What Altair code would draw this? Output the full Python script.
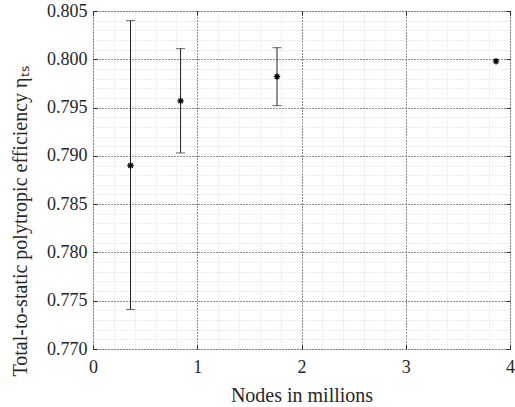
import altair as alt
import pandas as pd

nodes = [0.36, 0.84, 1.765, 3.866]
eta = [0.789, 0.7957, 0.7982, 0.7998]
low = [0.7741, 0.7903, 0.7952, None]
high = [0.8040, 0.8011, 0.8012, None]

x_major = [0, 1, 2, 3, 4]
x_minor = [i / 5 for i in range(0, 21)]
y_major = [0.770, 0.775, 0.780, 0.785, 0.790, 0.795, 0.800, 0.805]
y_minor = [round(0.770 + i * 0.001, 3) for i in range(0, 36)]

df = pd.DataFrame({"nodes": nodes, "eta": eta, "low": low, "high": high})
eb = df.dropna()

FONT = "Liberation Serif"
xs = alt.Scale(domain=[0, 4], nice=False, zero=False)
ys = alt.Scale(domain=[0.770, 0.805], nice=False, zero=False)

base = alt.Chart(df)

minor = base.mark_point(opacity=0).encode(
    x=alt.X("nodes:Q", scale=xs, axis=alt.Axis(orient="bottom", values=x_minor, grid=True, gridColor="#d8d8d8",
                                               gridDash=[1, 2], gridWidth=1, labels=False, ticks=False,
                                               domain=False, title=None)),
    y=alt.Y("eta:Q", scale=ys, axis=alt.Axis(orient="left", values=y_minor, grid=True, gridColor="#d8d8d8",
                                             gridDash=[1, 2], gridWidth=1, labels=False, ticks=False,
                                             domain=False, title=None)),
)

major = base.mark_point(opacity=0).encode(
    x=alt.X("nodes:Q", scale=xs, axis=alt.Axis(orient="bottom", values=x_major, grid=True, gridColor="#303030",
                                               gridDash=[1, 2], gridWidth=1,
                                               labels=True, ticks=False, domain=False, labelFlush=False,
                                               labelFont=FONT, labelFontSize=18, labelColor="#262626",
                                               labelPadding=9, format="d",
                                               title="Nodes in millions", titleFont=FONT,
                                               titleFontSize=20, titleFontWeight="normal",
                                               titleColor="#262626", titlePadding=9)),
    y=alt.Y("eta:Q", scale=ys, axis=alt.Axis(orient="left", values=y_major, grid=True, gridColor="#303030",
                                             gridDash=[1, 2], gridWidth=1,
                                             labels=True, ticks=False, domain=False, labelFlush=False,
                                             labelFont=FONT, labelFontSize=18, labelColor="#262626",
                                             labelPadding=6, format=".3f",
                                             title="Total-to-static polytropic efficiency ηₜₛ",
                                             titleFont=FONT, titleFontSize=20, titleFontWeight="normal",
                                             titleColor="#262626", titleX=-73, titleY=210,
                                             titleAngle=270, titleAlign="center", titleBaseline="middle")),
)

inner = base.mark_point(opacity=0).encode(
    x=alt.X("nodes:Q", scale=xs, axis=alt.Axis(values=x_major, orient="bottom", offset=-4, tickSize=4,
                                               tickColor="#262626", labels=False, domain=False,
                                               grid=False, title=None)),
    y=alt.Y("eta:Q", scale=ys, axis=alt.Axis(values=y_major, orient="left", offset=-4, tickSize=4,
                                             tickColor="#262626", labels=False, domain=False,
                                             grid=False, title=None)),
)

inner2 = base.mark_point(opacity=0).encode(
    x=alt.X("nodes:Q", scale=xs, axis=alt.Axis(values=x_major, orient="top", offset=-4, tickSize=4,
                                               tickColor="#262626", labels=False, domain=False,
                                               grid=False, title=None)),
    y=alt.Y("eta:Q", scale=ys, axis=alt.Axis(values=y_major, orient="right", offset=-4, tickSize=4,
                                             tickColor="#262626", labels=False, domain=False,
                                             grid=False, title=None)),
)

rules = alt.Chart(eb).mark_rule(color="#222222", strokeWidth=1).encode(
    x=alt.X("nodes:Q", scale=xs, axis=None),
    y=alt.Y("low:Q", scale=ys, axis=None),
    y2="high:Q",
)
cap_lo = alt.Chart(eb).mark_tick(color="#222222", thickness=1, size=9, orient="horizontal").encode(
    x=alt.X("nodes:Q", scale=xs, axis=None), y=alt.Y("low:Q", scale=ys, axis=None))
cap_hi = alt.Chart(eb).mark_tick(color="#222222", thickness=1, size=9, orient="horizontal").encode(
    x=alt.X("nodes:Q", scale=xs, axis=None), y=alt.Y("high:Q", scale=ys, axis=None))

star = "M-1,0L1,0M0,-1L0,1M-0.7,-0.7L0.7,0.7M-0.7,0.7L0.7,-0.7"
pts = alt.Chart(df).mark_point(shape=star, size=40, filled=False, color="#000000", strokeWidth=1.3,
                               opacity=1).encode(
    x=alt.X("nodes:Q", scale=xs, axis=None), y=alt.Y("eta:Q", scale=ys, axis=None))

chart = alt.layer(minor, major, inner, inner2, rules, cap_lo, cap_hi, pts).resolve_axis(
    x="independent", y="independent"
).properties(
    width=417, height=338,
    autosize=alt.AutoSizeParams(type="none"),
    padding={"left": 93, "top": 11, "right": 5, "bottom": 58},
).configure_view(stroke="#262626", strokeWidth=1).configure(background="white")

chart.save("out.html", embed_options={"renderer": "svg", "actions": False})
